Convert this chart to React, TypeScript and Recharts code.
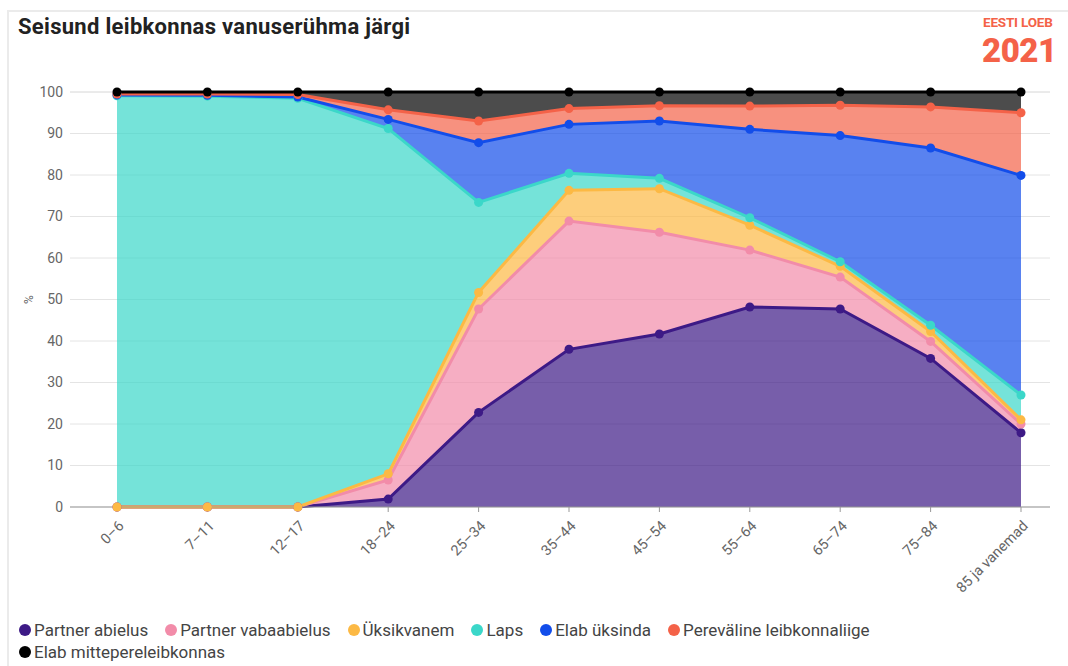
import { AreaChart, Area, XAxis, YAxis, CartesianGrid } from 'recharts';

const ageGroups = ['0–6', '7–11', '12–17', '18–24', '25–34', '35–44', '45–54', '55–64', '65–74', '75–84', '85 ja vanemad'];

const partnerAbielus = [0, 0, 0, 1.9, 22.8, 38.0, 41.7, 48.2, 47.7, 35.8, 17.9];
const partnerVabaabielus = [0, 0, 0, 4.6, 24.9, 30.9, 24.5, 13.7, 7.7, 4.1, 2.1];
const uksikvanem = [0, 0, 0, 1.5, 4.0, 7.4, 10.5, 6.0, 2.6, 2.4, 1.0];
const laps = [99.1, 99.0, 98.5, 83.2, 21.7, 4.1, 2.5, 1.8, 1.1, 1.5, 6.0];
const elabUksinda = [0.2, 0.2, 0.3, 2.2, 14.4, 11.8, 13.8, 21.3, 30.4, 42.7, 52.9];
const perevaline = [0.2, 0.3, 0.6, 2.3, 5.2, 3.8, 3.7, 5.6, 7.3, 9.9, 15.1];
const mittepere = [0.5, 0.5, 0.6, 4.3, 7.0, 4.0, 3.3, 3.4, 3.2, 3.6, 5.0];

const yTicks = [0, 10, 20, 30, 40, 50, 60, 70, 80, 90, 100];

const series = [
  { key: 'abielus', name: 'Partner abielus', color: '#3d1a86', values: partnerAbielus },
  { key: 'vabaabielus', name: 'Partner vabaabielus', color: '#f28ca9', values: partnerVabaabielus },
  { key: 'uksikvanem', name: 'Üksikvanem', color: '#fcb944', values: uksikvanem },
  { key: 'laps', name: 'Laps', color: '#3bd7c9', values: laps },
  { key: 'uksinda', name: 'Elab üksinda', color: '#124dea', values: elabUksinda },
  { key: 'perevaline', name: 'Pereväline leibkonnaliige', color: '#f46248', values: perevaline },
  { key: 'mittepere', name: 'Elab mittepereleibkonnas', color: '#000000', values: mittepere },
];

const data = ageGroups.map((age, i) => {
  const row: Record<string, string | number> = { age };
  series.forEach((s) => {
    row[s.key] = s.values[i];
  });
  return row;
});

const font = 'Roboto, sans-serif';

const AgeTick = (props: any) => {
  const { x, y, payload } = props;
  return (
    <g transform={`translate(${x + 5},${y + 10})`}>
      <text
        transform="rotate(-45)"
        textAnchor="end"
        dy={4}
        fontSize={14.5}
        fill="#666"
        fontFamily={font}
      >
        {payload.value}
      </text>
    </g>
  );
};

const makeDot = (color: string) => (props: any) => {
  const { cx, cy, index } = props;
  if (cx == null || cy == null) return <g key={index} />;
  return <circle key={index} cx={cx} cy={cy} r={4.5} fill={color} stroke="none" />;
};

export default function App() {
  return (
    <div
      style={{
        position: 'absolute',
        left: 0,
        top: 0,
        width: 1068,
        height: 666,
        background: '#fff',
        fontFamily: font,
        overflow: 'hidden',
      }}
    >
      <div
        style={{
          position: 'absolute',
          left: 7,
          top: 10,
          width: 1080,
          height: 680,
          border: '2px solid #ebebeb',
        }}
      />
      <div
        style={{
          position: 'absolute',
          left: 18,
          top: 14,
          fontSize: 22,
          lineHeight: '26px',
          fontWeight: 700,
          color: '#222',
          letterSpacing: 0.3,
        }}
      >
        Seisund leibkonnas vanuserühma järgi
      </div>
      <div
        style={{
          position: 'absolute',
          left: 983,
          top: 15,
          color: '#f46248',
          fontWeight: 700,
          fontSize: 13.5,
          lineHeight: '15px',
          whiteSpace: 'nowrap',
          letterSpacing: -0.2,
        }}
      >
        EESTI LOEB
      </div>
      <div
        style={{
          position: 'absolute',
          left: 982,
          top: 34,
          color: '#f46248',
          fontWeight: 900,
          fontSize: 33,
          lineHeight: '33px',
          whiteSpace: 'nowrap',
          letterSpacing: -0.5,
        }}
      >
        2021
      </div>
      <div
        style={{
          position: 'absolute',
          left: 22,
          top: 304,
          fontSize: 12,
          color: '#666',
          transform: 'rotate(-90deg)',
          transformOrigin: 'left top',
        }}
      >
        %
      </div>
      <div style={{ position: 'absolute', left: 0, top: 0 }}>
        <AreaChart
          width={1068}
          height={607}
          data={data}
          margin={{ top: 92, right: 18, bottom: 0, left: 0 }}
        >
          <CartesianGrid vertical={false} stroke="#e4e4e4" />
          <XAxis
            dataKey="age"
            interval={0}
            height={100}
            padding={{ left: 47, right: 29 }}
            stroke="#999"
            tickSize={5}
            tick={<AgeTick />}
          />
          <YAxis
            width={70}
            domain={[0, 100]}
            ticks={yTicks}
            axisLine={false}
            tickLine={false}
            tickSize={0}
            tickMargin={7}
            tick={{ fontSize: 14, fill: '#666', fontFamily: font }}
          />
          {series.map((s) => (
            <Area
              key={`fill-${s.key}`}
              type="linear"
              dataKey={s.key}
              stackId="fill"
              stroke="none"
              fill={s.color}
              fillOpacity={0.7}
              dot={false}
              activeDot={false}
              isAnimationActive={false}
            />
          ))}
          {series.map((s) => (
            <Area
              key={`line-${s.key}`}
              type="linear"
              dataKey={s.key}
              stackId="line"
              stroke={s.color}
              strokeWidth={3}
              fill="none"
              fillOpacity={0}
              dot={makeDot(s.color)}
              activeDot={false}
              isAnimationActive={false}
            />
          ))}
        </AreaChart>
      </div>
      <div
        style={{
          position: 'absolute',
          left: 19,
          top: 619,
          width: 900,
          display: 'flex',
          flexWrap: 'wrap',
          columnGap: 17,
          rowGap: 0,
          fontSize: 17,
          color: '#444',
          lineHeight: '22px',
        }}
      >
        {series.map((s) => (
          <div key={s.key} style={{ display: 'flex', alignItems: 'center' }}>
            <span
              style={{
                display: 'inline-block',
                width: 12,
                height: 12,
                borderRadius: '50%',
                background: s.color,
                marginRight: 3,
              }}
            />
            {s.name}
          </div>
        ))}
      </div>
    </div>
  );
}
